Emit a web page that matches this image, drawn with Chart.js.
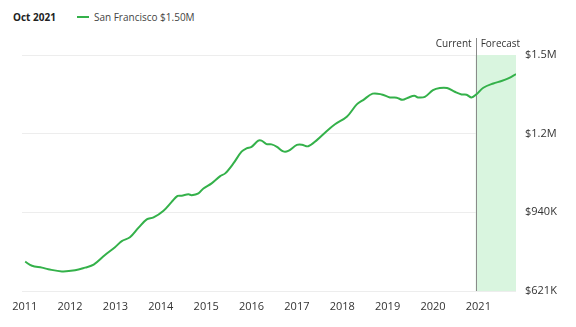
<!DOCTYPE html>
<html>
<head>
<meta charset="utf-8">
<script src="https://cdn.jsdelivr.net/npm/chart.js@4/dist/chart.umd.min.js"></script>
<style>
  html, body { margin: 0; padding: 0; background: #fff; }
  body { width: 576px; height: 327px; position: relative; overflow: hidden; font-family: "Open Sans", sans-serif; }
  #header { position: absolute; left: 13px; top: 9px; height: 16px; display: flex; align-items: center; font-size: 10px; color: #444; }
  #header .date { font-weight: bold; color: #222; margin-right: 21px; }
  #header .swatch { width: 12px; height: 2px; background: #34b14a; margin-right: 5px; }
  #wrap { position: absolute; left: 0; top: 0; width: 576px; height: 327px; }
</style>
</head>
<body>
<div id="header"><span class="date">Oct 2021</span><span class="swatch"></span><span>San Francisco $1.50M</span></div>
<div id="wrap"><canvas id="chart"></canvas></div>
<script>
// decimal years, home value in $K
const years = [
  2011.01, 2011.16, 2011.38, 2011.52, 2011.82, 2012.11, 2012.33, 2012.52, 2012.77, 2012.99,
  2013.14, 2013.32, 2013.51, 2013.69, 2013.84, 2014.06, 2014.24, 2014.37, 2014.46, 2014.61,
  2014.68, 2014.83, 2014.94, 2015.12, 2015.31, 2015.42, 2015.60, 2015.78, 2015.89, 2016.00,
  2016.15, 2016.22, 2016.33, 2016.44, 2016.56, 2016.70, 2016.81, 2017.00, 2017.11, 2017.25,
  2017.44, 2017.66, 2017.84, 2018.10, 2018.32, 2018.46, 2018.67, 2018.87, 2019.05, 2019.20,
  2019.33, 2019.45, 2019.59, 2019.67, 2019.82, 2020.00, 2020.15, 2020.31, 2020.48, 2020.63,
  2020.74, 2020.85, 2020.96, 2021.11, 2021.33, 2021.51, 2021.66, 2021.83
];
const valuesK = [
  730, 715, 708, 702, 694, 698, 708, 719, 755, 784,
  807, 821, 857, 888, 895, 920, 953, 975, 976, 981,
  978, 985, 1003, 1022, 1049, 1059, 1096, 1140, 1152, 1158,
  1181, 1181, 1168, 1167, 1158, 1141, 1143, 1165, 1166, 1160,
  1183, 1217, 1242, 1270, 1316, 1332, 1356, 1353, 1342, 1341,
  1333, 1341, 1348, 1342, 1344, 1369, 1377, 1377, 1363, 1353,
  1352, 1342, 1354, 1378, 1394, 1403, 1413, 1429
];
const yearTicks = [2011, 2012, 2013, 2014, 2015, 2016, 2017, 2018, 2019, 2020, 2021];
const yTickValues = [621, 914, 1207, 1500];
const yTickLabels = ['$621K', '$940K', '$1.2M', '$1.5M'];
const forecastStart = 2020.94;
const forecastEnd = 2021.83;
const xMin = 2010.94;

const GREEN = '#34b14a';

const forecastPlugin = {
  id: 'forecast',
  beforeDatasetsDraw(chart) {
    const { ctx, chartArea, scales } = chart;
    const x0 = scales.x.getPixelForValue(forecastStart);
    const x1 = scales.x.getPixelForValue(forecastEnd);
    ctx.save();
    ctx.fillStyle = '#d9f5df';
    ctx.fillRect(x0, chartArea.top, x1 - x0, chartArea.bottom - chartArea.top);
    ctx.strokeStyle = '#8a8a8a';
    ctx.lineWidth = 1;
    ctx.beginPath();
    ctx.moveTo(Math.round(x0) + 0.5, chartArea.top - 17);
    ctx.lineTo(Math.round(x0) + 0.5, chartArea.bottom);
    ctx.stroke();
    ctx.fillStyle = '#333';
    ctx.font = '10px "Open Sans", sans-serif';
    ctx.textBaseline = 'middle';
    ctx.textAlign = 'right';
    ctx.fillText('Current', x0 - 4, chartArea.top - 11);
    ctx.textAlign = 'left';
    ctx.fillText('Forecast', x0 + 5, chartArea.top - 11);
    ctx.restore();
  }
};

new Chart(document.getElementById('chart'), {
  type: 'line',
  data: {
    datasets: [{
      data: years.map((y, i) => ({ x: y, y: valuesK[i] })),
      borderColor: GREEN,
      borderWidth: 2,
      pointRadius: 0,
      tension: 0.35,
      fill: false
    }]
  },
  options: {
    responsive: true,
    maintainAspectRatio: false,
    animation: false,
    layout: { padding: { left: 22, top: 55, right: 0, bottom: 0 } },
    plugins: { legend: { display: false }, tooltip: { enabled: false } },
    scales: {
      x: {
        type: 'linear',
        min: xMin,
        max: forecastEnd,
        afterBuildTicks: s => { s.ticks = yearTicks.map(v => ({ value: v })); },
        afterFit: s => { s.height = 36; },
        grid: { display: false, drawTicks: false },
        border: { display: false },
        ticks: {
          padding: 9,
          maxRotation: 0,
          autoSkip: false,
          color: '#333',
          font: { family: '"Open Sans", sans-serif', size: 11 },
          callback: v => String(v)
        }
      },
      y: {
        position: 'right',
        min: yTickValues[0],
        max: yTickValues[yTickValues.length - 1],
        afterBuildTicks: s => { s.ticks = yTickValues.map(v => ({ value: v })); },
        afterFit: s => { s.width = 60; },
        grid: { color: '#ededed', drawTicks: false },
        border: { display: false },
        ticks: {
          padding: 9,
          color: '#333',
          font: { family: '"Open Sans", sans-serif', size: 11 },
          callback: (v, i) => yTickLabels[i]
        }
      }
    }
  },
  plugins: [forecastPlugin]
});
</script>
</body>
</html>
